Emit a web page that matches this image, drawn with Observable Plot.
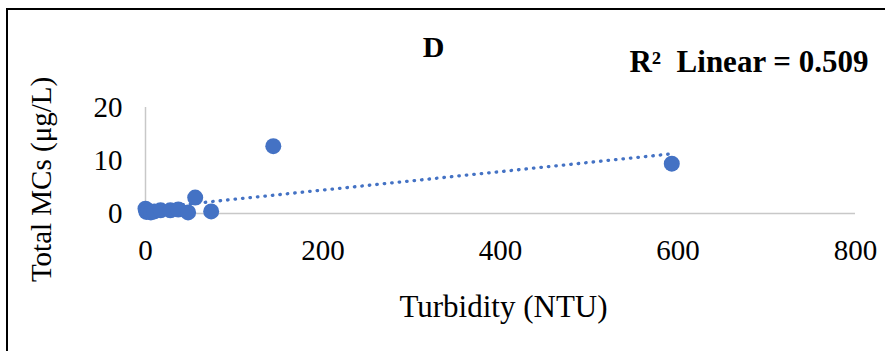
<!DOCTYPE html>
<html>
<head>
<meta charset="utf-8">
<script src="https://cdn.jsdelivr.net/npm/d3@7"></script>
<script src="https://cdn.jsdelivr.net/npm/@observablehq/plot@0.6"></script>
<style>
  body { margin: 0; background: #fff; }
  #chart { width: 885px; height: 351px; }
</style>
</head>
<body>
<div id="chart"></div>
<script>
// Turbidity vs total microcystins, panel D
const turbidity = [0, 1, 3, 6, 10, 17, 28, 37, 48, 56, 74, 144, 593];
const totalMCs  = [0.9, 0.3, 0.5, 0.2, 0.4, 0.6, 0.6, 0.75, 0.2, 3.0, 0.4, 12.7, 9.4];
const xTicks = [0, 200, 400, 600, 800];
const yTicks = [0, 10, 20];
const panelTitle = "D";
const r2Label = "R\u00B2\u2002Linear = 0.509";
const xTitle = "Turbidity (NTU)";
const yTitle = "Total MCs (\u03BCg/L)";

const samples = turbidity.map((t, i) => ({turbidity: t, mcs: totalMCs[i]}));
const blue = "#4472C4";
const axisGray = "#c8c8c8";
const serif = "'Liberation Serif', 'Times New Roman', serif";

const chart = Plot.plot({
  width: 885,
  height: 351,
  marginLeft: 145,
  marginRight: 30,
  marginTop: 107,
  marginBottom: 138,
  style: {fontFamily: serif, background: "#fff", color: "#000", fontSize: "29px"},
  x: {domain: [0, 800]},
  y: {domain: [0, 20]},
  marks: [
    Plot.ruleY([0], {stroke: axisGray, strokeWidth: 1.5}),
    Plot.ruleX([0], {stroke: axisGray, strokeWidth: 1.5}),
    Plot.axisX({ticks: xTicks, tickSize: 0, tickPadding: 26, fontSize: 29, label: null}),
    Plot.axisY({ticks: yTicks, tickSize: 0, tickPadding: 23, fontSize: 29, label: null}),
    Plot.linearRegressionY(samples, {
      x: "turbidity", y: "mcs", ci: 0,
      stroke: blue, strokeWidth: 3.3, strokeDasharray: "0.5,7", strokeLinecap: "round"
    }),
    Plot.dot(samples, {x: "turbidity", y: "mcs", r: 8, fill: blue}),
    Plot.text([yTitle], {
      text: d => d, frameAnchor: "left", textAnchor: "middle", lineAnchor: "middle",
      rotate: -90, dx: -104, dy: 19, fontSize: 29
    }),
    Plot.text([xTitle], {
      text: d => d, frameAnchor: "bottom", textAnchor: "middle", lineAnchor: "middle",
      dx: 3, dy: 94, fontSize: 31
    }),
    Plot.text([panelTitle], {
      text: d => d, frameAnchor: "top", textAnchor: "middle", lineAnchor: "middle",
      dx: -67, dy: -60, fontSize: 30, fontWeight: "bold"
    }),
    Plot.text([r2Label], {
      text: d => d, frameAnchor: "top-right", textAnchor: "end", lineAnchor: "middle",
      dx: 13, dy: -45, fontSize: 31, fontWeight: "bold"
    })
  ]
});

// outer frame of the panel (top and left edges)
d3.select(chart).append("path")
  .attr("d", "M7,351V9H885")
  .attr("fill", "none")
  .attr("stroke", "#000")
  .attr("stroke-width", 2);

document.getElementById("chart").append(chart);
</script>
</body>
</html>
